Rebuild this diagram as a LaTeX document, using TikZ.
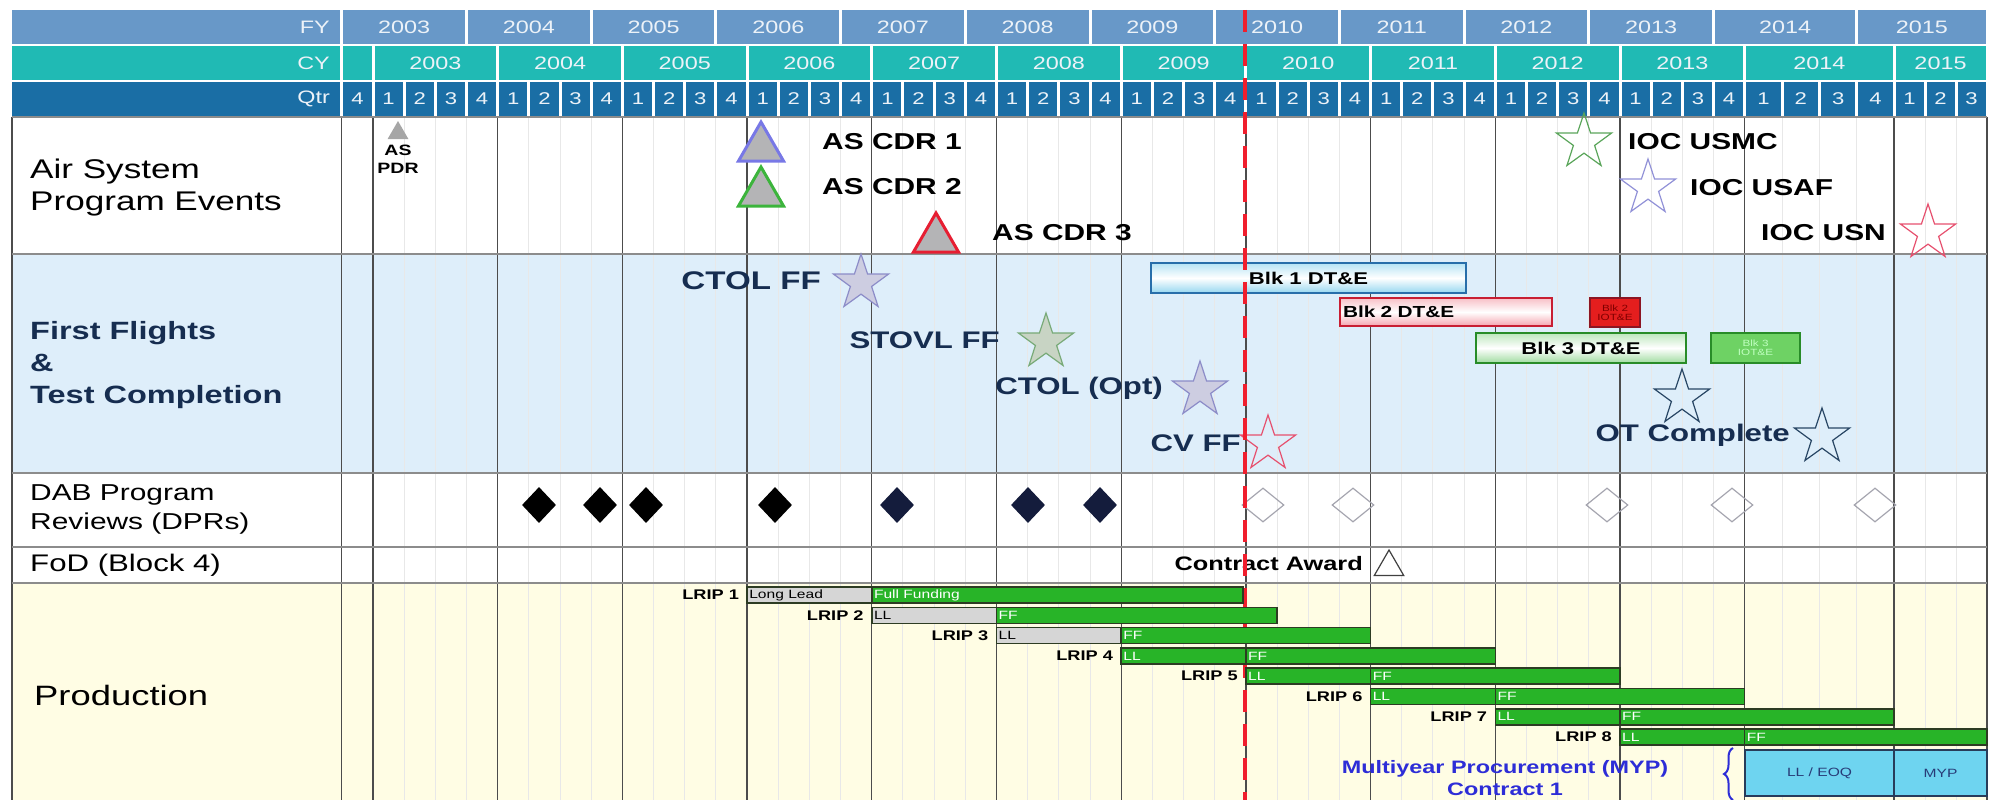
\documentclass[tikz,border=0pt]{standalone}
\usepackage{fontspec}
\setmainfont{Liberation Sans}[FakeStretch=1.3]
\usetikzlibrary{shapes.geometric,decorations.pathreplacing}

\definecolor{fyblue}{RGB}{104,152,200}
\definecolor{cyteal}{RGB}{32,186,180}
\definecolor{qtrblue}{RGB}{26,110,165}
\definecolor{hdrtext}{RGB}{236,242,248}
\definecolor{ffband}{RGB}{222,238,250}
\definecolor{prodband}{RGB}{255,253,228}
\definecolor{navytext}{RGB}{22,45,80}
\definecolor{todayred}{RGB}{240,30,45}
\definecolor{trigray}{RGB}{180,180,182}
\definecolor{cdr1edge}{RGB}{120,120,230}
\definecolor{cdr2edge}{RGB}{60,180,60}
\definecolor{cdr3edge}{RGB}{230,30,50}
\definecolor{usmcstar}{RGB}{90,165,90}
\definecolor{usafstar}{RGB}{145,145,215}
\definecolor{usnstar}{RGB}{230,80,110}
\definecolor{lavstar}{RGB}{205,205,225}
\definecolor{lavedge}{RGB}{140,140,200}
\definecolor{stovlstar}{RGB}{200,212,196}
\definecolor{stovledge}{RGB}{120,170,120}
\definecolor{otedge}{RGB}{40,70,100}
\definecolor{blk1edge}{RGB}{40,110,170}
\definecolor{blk1fill}{RGB}{150,215,240}
\definecolor{blk2edge}{RGB}{200,30,50}
\definecolor{blk2fill}{RGB}{245,165,175}
\definecolor{blk3edge}{RGB}{40,140,40}
\definecolor{blk3fill}{RGB}{160,220,160}
\definecolor{iotred}{RGB}{228,30,30}
\definecolor{iotgreen}{RGB}{110,210,100}
\definecolor{dprnavy}{RGB}{20,28,60}
\definecolor{dprgray}{RGB}{165,165,175}
\definecolor{lripgreen}{RGB}{40,180,40}
\definecolor{llgray}{RGB}{214,214,214}
\definecolor{barborder}{RGB}{45,60,35}
\definecolor{mypblue}{RGB}{45,45,215}
\definecolor{mypcyan}{RGB}{110,212,240}
\definecolor{mypedge}{RGB}{40,60,90}
\definecolor{myptext}{RGB}{40,60,120}

% x position of the start of quarter k (k=0: 2002 Q4, k=1: 2003 Q1)
\pgfmathdeclarefunction{qx}{1}{%
  \pgfmathparse{#1<=45 ? 373+(#1-1)*31.175 : (#1<=49 ? 1745+(#1-45)*37.25 : 1894+(#1-49)*31)}%
}

\tikzset{
  hdrcell/.style  = {inner sep=0pt, text=hdrtext, font=\fontsize{18}{20}\selectfont},
  qline/.style    = {draw=black!9, line width=1pt},
  yline/.style    = {draw=black!70, line width=1.3pt},
  rowsep/.style   = {draw=black!45, line width=2pt},
  rowlabel/.style = {anchor=west, align=left, inner sep=0pt, font=\fontsize{27}{32}\selectfont},
  fflabel/.style  = {rowlabel, text=navytext, font=\bfseries\fontsize{25}{32}\selectfont},
  evtext/.style   = {inner sep=0pt, font=\bfseries\fontsize{23}{26}\selectfont},
  fftext/.style   = {evtext, anchor=east, text=navytext, font=\bfseries\fontsize{24}{26}\selectfont},
  evstar/.style   = {star, star points=5, star point ratio=2.6, minimum size=58pt,
                     inner sep=0pt, line width=1.2pt, draw=#1},
  evtri/.style    = {regular polygon, regular polygon sides=3, minimum size=52pt,
                     inner sep=0pt, line width=3pt, fill=trigray, draw=#1},
  dprfull/.style  = {diamond, fill=#1, minimum width=34pt, minimum height=36pt, inner sep=0pt},
  dpropen/.style  = {diamond, draw=dprgray, line width=1.2pt, minimum width=42pt,
                     minimum height=34pt, inner sep=0pt},
  blkbar/.style   = {draw=#1, line width=1.5pt, inner sep=3pt,
                     font=\bfseries\fontsize{17}{19}\selectfont},
  iotbox/.style   = {draw=#1, line width=1.2pt, align=center, inner sep=0pt,
                     font=\fontsize{9}{9}\selectfont},
  lripbar/.style  = {draw=barborder, line width=1.5pt},
  bartext/.style  = {inner sep=0pt, anchor=west, font=\fontsize{12}{14}\selectfont},
  lriplbl/.style  = {inner sep=0pt, anchor=east, font=\bfseries\fontsize{14}{16}\selectfont},
  todayline/.style= {draw=todayred, line width=4pt, dash pattern=on 22pt off 12pt},
  mypbox/.style   = {draw=mypedge, fill=mypcyan, line width=1.2pt, inner sep=0pt,
                     text=myptext, font=\fontsize{12}{14}\selectfont},
}

\begin{document}
\begin{tikzpicture}[x=1pt, y=-1pt]
  \useasboundingbox (0,0) rectangle (1995,800);

  % ──────────────────────────────────────────────
  %  HEADER: FY / CY / Qtr
  % ──────────────────────────────────────────────
  \fill[fyblue]  (12,10) rectangle (339.5,44);
  \fill[cyteal]  (12,46) rectangle (339.5,80);
  \fill[qtrblue] (12,82) rectangle (339.5,116);
  \node[hdrcell, anchor=east] (fyhdr)  at (330,27) {FY};
  \node[hdrcell, anchor=east] (cyhdr)  at (330,63) {CY};
  \node[hdrcell, anchor=east] (qtrhdr) at (330,99) {Qtr};

  % fiscal years
  \foreach \yr [count=\i from 0] in {2003,...,2015} {
    \fill[fyblue] ({qx(4*\i)+1.5},10) rectangle ({qx(4*\i+4)-1.5},44);
    \node[hdrcell] (fy\yr) at ({(qx(4*\i)+qx(4*\i+4))/2},27) {\yr};
  }

  % calendar years
  \fill[cyteal] ({qx(0)+1.5},46) rectangle ({qx(1)-1.5},80);
  \foreach \yr [count=\i from 0] in {2003,...,2015} {
    \pgfmathsetmacro\ca{qx(4*\i+1)}
    \pgfmathsetmacro\cb{qx(min(4*\i+5,52))}
    \fill[cyteal] ({\ca+1.5},46) rectangle ({\cb-1.5},80);
    \node[hdrcell] (cy\yr) at ({(\ca+\cb)/2},63) {\yr};
  }

  % quarters
  \foreach \k in {0,...,51} {
    \pgfmathtruncatemacro\qn{mod(\k+3,4)+1}
    \fill[qtrblue] ({qx(\k)+1.5},82) rectangle ({qx(\k+1)-1.5},116);
    \node[hdrcell, font=\fontsize{17}{19}\selectfont] (q\k)
      at ({(qx(\k)+qx(\k+1))/2},99) {\qn};
  }

  % ──────────────────────────────────────────────
  %  BODY: bands and grid
  % ──────────────────────────────────────────────
  \fill[ffband]   (12,254) rectangle (1987,473);
  \fill[prodband] (12,583) rectangle (1987,800);

  \foreach \k in {0,...,52}
    \draw[qline] ({qx(\k)},117) -- ({qx(\k)},800);
  \foreach \k in {0,1,52}
    \draw[yline] ({qx(\k)},117) -- ({qx(\k)},800);
  \foreach \k in {5,9,...,49}
    \draw[yline] ({qx(\k)},117) -- ({qx(\k)},800);
  \draw[yline] (12,117) -- (12,800);

  \foreach \yy in {117,254,473,547,583}
    \draw[rowsep] (12,\yy) -- (1987,\yy);

  % ══════════════════════════════════════════════
  %  AIR SYSTEM PROGRAM EVENTS
  % ══════════════════════════════════════════════
  \node[rowlabel] (airlbl) at (30,188) {Air System\\Program Events};

  \node[regular polygon, regular polygon sides=3, minimum size=24pt, inner sep=0pt,
        fill=black!35] (pdr) at (398,133) {};
  \node[evtext, align=center, font=\bfseries\fontsize{15}{18}\selectfont]
    (pdrlbl) at (398,159) {AS\\PDR};

  \node[evtri=cdr1edge] (cdr1) at (761,148) {};
  \node[evtext, anchor=west] (cdr1lbl) at (822,142) {AS CDR 1};
  \node[evtri=cdr2edge] (cdr2) at (761,193) {};
  \node[evtext, anchor=west] (cdr2lbl) at (822,187) {AS CDR 2};
  \node[evtri=cdr3edge] (cdr3) at (936,239) {};
  \node[evtext, anchor=west] (cdr3lbl) at (992,233) {AS CDR 3};

  \node[evstar=usmcstar] (usmc) at (1584,142) {};
  \node[evtext, anchor=west] (usmclbl) at (1628,142) {IOC USMC};
  \node[evstar=usafstar] (usaf) at (1648,188) {};
  \node[evtext, anchor=west] (usaflbl) at (1690,188) {IOC USAF};
  \node[evstar=usnstar] (usn) at (1928,233) {};
  \node[evtext, anchor=east] (usnlbl) at (1886,233) {IOC USN};

  % ══════════════════════════════════════════════
  %  FIRST FLIGHTS & TEST COMPLETION
  % ══════════════════════════════════════════════
  \node[fflabel] (fflbl) at (30,365) {First Flights\\\&\\Test Completion};

  \node[evstar=lavedge, fill=lavstar] (ctolff) at (861,283) {};
  \node[fftext, font=\bfseries\fontsize{25.5}{26}\selectfont] (ctolfflbl) at (821,281) {CTOL FF};
  \node[evstar=stovledge, fill=stovlstar] (stovlff) at (1046,342) {};
  \node[fftext] (stovlfflbl) at (1000,340) {STOVL FF};
  \node[evstar=lavedge, fill=lavstar] (ctolopt) at (1200,390) {};
  \node[fftext] (ctoloptlbl) at (1163,388) {CTOL (Opt)};
  \node[evstar=usnstar] (cvff) at (1268,444) {};
  \node[fftext] (cvfflbl) at (1241,443) {CV FF};

  \node[blkbar=blk1edge, top color=blk1fill!70, bottom color=blk1fill, middle color=white,
        minimum width=315pt, minimum height=30pt] (blk1) at (1308.5,278) {Blk 1 DT\&E};
  \node[blkbar=blk2edge, top color=blk2fill!70, bottom color=blk2fill, middle color=white,
        minimum width=212pt, minimum height=28pt, text width=206pt,
        font=\bfseries\fontsize{16}{18}\selectfont] (blk2) at (1446,312) {Blk 2 DT\&E};
  \node[blkbar=blk3edge, top color=blk3fill!70, bottom color=blk3fill, middle color=white,
        minimum width=210pt, minimum height=30pt] (blk3) at (1581,348) {Blk 3 DT\&E};
  \node[iotbox=blk2edge!70!black, fill=iotred, text=red!50!black,
        minimum width=50pt, minimum height=29pt] (blk2iot) at (1615,312.5) {Blk 2\\IOT\&E};
  \node[iotbox=blk3edge, fill=iotgreen, text=green!25,
        minimum width=89pt, minimum height=30pt] (blk3iot) at (1755.5,348) {Blk 3\\IOT\&E};

  \node[evstar=otedge] (ot1) at (1682,398) {};
  \node[evstar=otedge] (ot2) at (1822,437) {};
  \node[fftext] (otlbl) at (1790,435) {OT Complete};

  % ══════════════════════════════════════════════
  %  DAB PROGRAM REVIEWS
  % ══════════════════════════════════════════════
  \node[rowlabel, font=\fontsize{23}{29}\selectfont] (dablbl) at (30,509)
    {DAB Program\\Reviews (DPRs)};
  \foreach \xx [count=\i] in {539,600,646,775}
    \node[dprfull=black] (dpr\i) at (\xx,505) {};
  \foreach \xx [count=\i from 5] in {897,1028,1100}
    \node[dprfull=dprnavy] (dpr\i) at (\xx,505) {};
  \foreach \xx [count=\i from 8] in {1263,1353,1607,1732,1875}
    \node[dpropen] (dpr\i) at (\xx,505) {};

  % ══════════════════════════════════════════════
  %  FoD (BLOCK 4)
  % ══════════════════════════════════════════════
  \node[rowlabel, font=\fontsize{24}{28}\selectfont] (fodlbl) at (30,565) {FoD (Block 4)};
  \node[evtext, anchor=east, font=\bfseries\fontsize{19.5}{20}\selectfont]
    (awardlbl) at (1363,564) {Contract Award};
  \node[regular polygon, regular polygon sides=3, minimum size=34pt, inner sep=0pt,
        draw=black!75, fill=white, line width=1.2pt] (award) at (1389,567) {};

  % ══════════════════════════════════════════════
  %  PRODUCTION
  % ══════════════════════════════════════════════
  \node[rowlabel, font=\fontsize{28}{32}\selectfont] (prodlbl) at (34,695) {Production};

  % status date
  \draw[todayline] ({qx(29)-1},10) -- ({qx(29)-1},800);

  % LRIP lots: lot / LL start / FF start / FF end / LL colour / LL text / LL text colour / FF text
  \foreach \n/\ka/\kb/\kc/\llc/\llt/\lltc/\fft in {
      1/13/17/28.9/llgray/Long Lead/black/Full Funding,
      2/17/21/30/llgray/LL/black/FF,
      3/21/25/33/llgray/LL/black/FF,
      4/25/29/37/lripgreen/LL/white/FF,
      5/29/33/41/lripgreen/LL/white/FF,
      6/33/37/45/lripgreen/LL/white/FF,
      7/37/41/49/lripgreen/LL/white/FF,
      8/41/45/52/lripgreen/LL/white/FF} {
    \pgfmathsetmacro\ya{595+(\n-1)*20.3-8}
    \pgfmathsetmacro\yb{\ya+16}
    \draw[lripbar, fill=\llc] ({qx(\ka)},\ya) rectangle ({qx(\kb)},\yb);
    \draw[lripbar, fill=lripgreen] ({qx(\kb)},\ya) rectangle ({qx(\kc)},\yb);
    \node[lriplbl] (lrip\n) at ({qx(\ka)-8},\ya+8) {LRIP \n};
    \node[bartext, text=\lltc] (ll\n) at ({qx(\ka)+2},\ya+8) {\llt};
    \node[bartext, text=white] (ff\n) at ({qx(\kb)+2},\ya+8) {\fft};
  }

  % multiyear procurement
  \node[align=center, inner sep=0pt, text=mypblue, font=\bfseries\fontsize{18}{22}\selectfont]
    (myplbl) at (1505,778) {Multiyear Procurement (MYP)\\Contract 1};
  \draw[mypblue, line width=2pt, decorate, decoration={brace, amplitude=9pt}]
    (1733,800) -- (1733,748);
  \node[mypbox, minimum width=149pt, minimum height=46pt] (eoq) at (1819.5,773) {LL / EOQ};
  \node[mypbox, minimum width=93pt, minimum height=46pt] (myp) at (1940.5,773) {MYP};

\end{tikzpicture}
\end{document}
